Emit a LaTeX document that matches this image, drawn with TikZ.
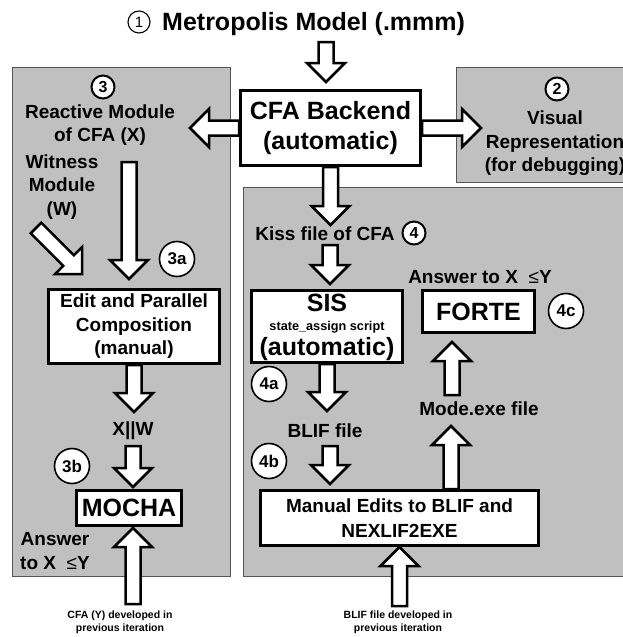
\documentclass[tikz,border=0pt]{standalone}
\usepackage{fontspec}
\setmainfont{Liberation Sans}
\usetikzlibrary{calc}
\definecolor{panelgray}{RGB}{192,192,192}
\definecolor{paneledge}{RGB}{85,85,85}
\pgfdeclarelayer{panels}
\pgfdeclarelayer{arrows}
\pgfsetlayers{panels,arrows,main}
% hollow block arrow from #1 to the tip #2
\newcommand\fatarrow[2]{%
  \coordinate (fa-h) at ($(#2)!19pt!(#1)$);
  \path[fat] ($(#1)!7.5pt!90:(fa-h)$) -- ($(fa-h)!7.5pt!-90:(#1)$)
    -- ($(fa-h)!19pt!-90:(#1)$) -- (#2) -- ($(fa-h)!19pt!90:(#1)$)
    -- ($(fa-h)!7.5pt!90:(#1)$) -- ($(#1)!7.5pt!-90:(fa-h)$) -- cycle;}
\begin{document}
\begin{tikzpicture}[x=1pt,y=-1pt,
  panel/.style={fill=panelgray, draw=paneledge, line width=1pt},
  box/.style={draw=black, fill=white, line width=3pt, inner sep=0pt, align=center},
  fat/.style={draw=black, fill=white, line width=2.5pt, line join=miter},
  tag/.style={circle, draw=black, fill=white, line width=1.6pt, minimum size=35pt, inner sep=0pt,
    font=\bfseries\fontsize{17}{17}\selectfont},
  num/.style={circle, draw=black, fill=white, line width=2pt, minimum size=23pt, inner sep=0pt,
    font=\bfseries\fontsize{16}{16}\selectfont},
  lbl/.style={font=\bfseries\fontsize{19}{23.5}\selectfont, align=center, inner sep=0pt},
  big/.style={font=\bfseries\fontsize{25}{30}\selectfont, align=center, inner sep=0pt},
  small/.style={font=\bfseries\fontsize{10.5}{13}\selectfont, align=center, inner sep=0pt},
]
\useasboundingbox (0,0) rectangle (622,637);

% white page and grey panels
\begin{pgfonlayer}{panels}
  \fill[white] (0,0) rectangle (622,637);
  \draw[panel] (12.5,67) rectangle (230,576);
  \draw[panel] (456,67) rectangle (640,182);
  \draw[panel] (243,187) rectangle (640,576);
\end{pgfonlayer}

% title
\node[circle, draw=black, line width=1.1pt, minimum size=22pt, inner sep=0pt,
  font=\fontsize{15}{15}\selectfont] (n1) at (139,22) {1};
\node[font=\bfseries\fontsize{25}{30}\selectfont, anchor=base west, inner sep=0pt] (title) at (162,30)
  {Metropolis Model (.mmm)};

% boxes
\node[box, big, minimum width=180pt, minimum height=75pt] (cfa) at (330.5,128) {CFA Backend\\(automatic)};
\node[box, lbl, minimum width=171pt, minimum height=74pt] (edit) at (134,326.5)
  {Edit and Parallel\\Composition\\(manual)};
\node[box, minimum width=151pt, minimum height=72pt] (sis) at (327,326.5) {};
\node[big, anchor=base] (sisT) at (327,311) {SIS};
\node[font=\bfseries\fontsize{12.7}{14}\selectfont, anchor=base, inner sep=0pt] (sisS) at (327,330) {state\_assign script};
\node[big, anchor=base] (sisA) at (327,355) {(automatic)};
\node[box, big, minimum width=112pt, minimum height=42pt] (forte) at (478.5,311.5) {FORTE};
\node[box, big, minimum width=105pt, minimum height=35pt] (mocha) at (129,508) {MOCHA};
\node[box, font=\bfseries\fontsize{19}{25}\selectfont, minimum width=278pt, minimum height=55pt] (manual) at (399.5,518)
  {Manual Edits to BLIF and\\NEXLIF2EXE};

% labels
\node[num] (n3) at (103,87) {3};
\node[num] (n2) at (557,89) {2};
\node[num] (n4) at (414,233) {4};
\node[lbl] (rm) at (100,125) {Reactive Module\\of CFA (X)};
\node[lbl] (wm) at (62,187) {Witness\\Module\\(W)};
\node[lbl] (xw) at (133,431) {X||W};
\node[lbl] (ans3) at (55,551) {Answer\\to X\ \ {\mdseries ≤}Y};
\node[lbl] (vis) at (555,143.5) {Visual\\Representation\\(for debugging)};
\node[lbl] (kiss) at (325,234) {Kiss file of CFA};
\node[lbl] (ans4) at (480,277) {Answer to X\ \ {\mdseries ≤}Y};
\node[lbl] (mode) at (479,409) {Mode.exe file};
\node[lbl] (blif) at (325,431) {BLIF file};
\node[small] (prevCfa) at (120,622) {CFA (Y) developed in\\previous iteration};
\node[small] (prevBlif) at (398,622) {BLIF file developed in\\previous iteration};

\node[tag] (t3a) at (177,259) {3a};
\node[tag] (t3b) at (72,466) {3b};
\node[tag] (t4a) at (269,384) {4a};
\node[tag] (t4b) at (269,461) {4b};
\node[tag] (t4c) at (566,311) {4c};

% arrow end points
\coordinate (titleOut) at (326,42);
\coordinate (cfaIn) at (326,82);
\coordinate (p3In) at (190,128);
\coordinate (p2In) at (481,128);
\coordinate (kissIn) at (330.5,225);
\coordinate (kissOut) at (330,245);
\coordinate (sisIn) at (330,284);
\coordinate (blifIn) at (327,411);
\coordinate (blifOut) at (330,446);
\coordinate (manualIn) at (330,484);
\coordinate (prevBlifOut) at (399.5,606);
\coordinate (manualOut) at (451,489);
\coordinate (modeIn) at (451,426);
\coordinate (modeOut) at (452,395);
\coordinate (forteIn) at (452,342);
\coordinate (rmOut) at (129,162);
\coordinate (editIn) at (129,279);
\coordinate (wmOut) at (36,228);
\coordinate (editInW) at (82,274);
\coordinate (xwIn) at (134,412);
\coordinate (xwOut) at (133,446);
\coordinate (mochaIn) at (133,487);
\coordinate (prevCfaOut) at (133,604);
\coordinate (mochaUp) at (133,528);

\begin{pgfonlayer}{arrows}
  \fatarrow{titleOut}{cfaIn}
  \fatarrow{cfa.west}{p3In}
  \fatarrow{cfa.east}{p2In}
  \fatarrow{cfa.south}{kissIn}
  \fatarrow{kissOut}{sisIn}
  \fatarrow{sis.south}{blifIn}
  \fatarrow{blifOut}{manualIn}
  \fatarrow{prevBlifOut}{manual.south}
  \fatarrow{manualOut}{modeIn}
  \fatarrow{modeOut}{forteIn}
  \fatarrow{rmOut}{editIn}
  \fatarrow{wmOut}{editInW}
  \fatarrow{edit.south}{xwIn}
  \fatarrow{xwOut}{mochaIn}
  \fatarrow{prevCfaOut}{mochaUp}
\end{pgfonlayer}
\end{tikzpicture}
\end{document}
